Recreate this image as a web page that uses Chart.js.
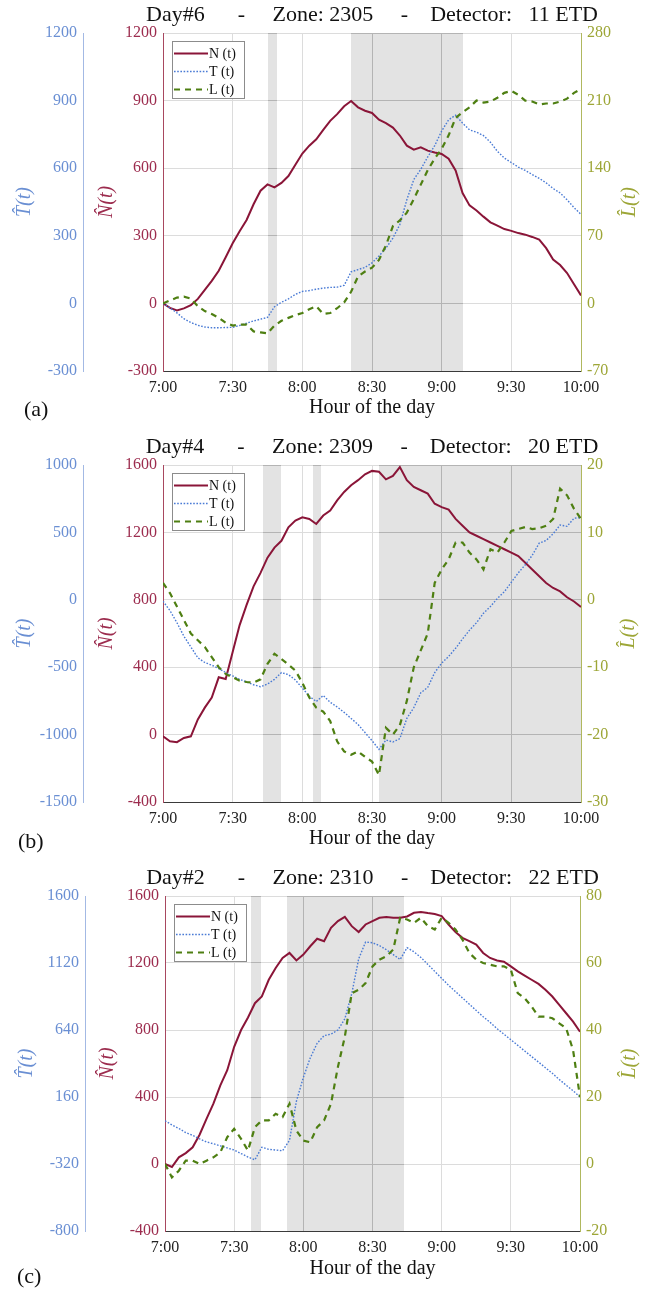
<!DOCTYPE html>
<html><head><meta charset="utf-8">
<script src="https://cdn.jsdelivr.net/npm/chart.js@4.4.1/dist/chart.umd.min.js"></script>
<style>
html,body{margin:0;padding:0;background:#fff;width:651px;height:1293px;overflow:hidden;}
.panel{position:absolute;left:0;width:651px;height:431px;}
canvas{display:block;}
</style></head><body>
<div class="panel" style="top:0px"><canvas id="cA" width="651" height="431"></canvas></div>
<div class="panel" style="top:431px"><canvas id="cB" width="651" height="431"></canvas></div>
<div class="panel" style="top:862px"><canvas id="cC" width="651" height="431"></canvas></div>
<script>
// ---------- shared x data (minutes after 7:00) ----------
const minutes = [0,3,6,9,12,15,18,21,24,27,30,33,36,39,42,45,48,51,54,57,60,63,66,69,72,75,78,81,84,87,90,93,96,99,102,105,108,111,114,117,120,123,126,129,132,135,138,141,144,147,150,153,156,159,162,165,168,171,174,177,180];
const xTickLabels = ['7:00','7:30','8:00','8:30','9:00','9:30','10:00'];
const seriesLabels = ['N (t)','T (t)','L (t)'];

// ---------- panel (a) ----------
const titleA = 'Day#6      -     Zone: 2305     -    Detector:   11 ETD';
const nA = [0,-20,-31,-22,-8,20,60,100,145,205,267,320,370,440,500,528,515,535,565,615,665,700,728,770,810,840,875,898,870,855,845,815,800,780,745,700,682,693,678,670,663,642,590,490,435,412,385,360,345,330,322,312,305,295,283,245,195,170,135,85,35];
const tA = [0,-20,-42,-68,-85,-97,-105,-108,-108,-107,-106,-98,-88,-78,-70,-62,-15,5,20,40,53,57,63,68,71,72,80,140,150,160,180,210,245,290,350,460,550,595,650,700,765,815,835,800,770,760,745,715,675,645,625,605,590,572,555,535,510,490,460,425,395];
const lA = [0,3,6,7,5,-3,-8,-11,-15,-20,-23,-22,-22,-29,-30,-31,-23,-18,-15,-12,-10,-6,-3,-11,-10,-5,1,12,28,33,37,45,60,80,86,94,108,123,138,150,160,174,192,198,203,210,208,209,213,218,220,216,210,209,206,207,207,209,212,218,222];
const shadeA = [[45,49],[81,129]];
const nAxisA = [-300,1200,300];
const tAxisA = [-300,1200,300];
const lAxisA = [-70,280,70];

// ---------- panel (b) ----------
const titleB = 'Day#4      -     Zone: 2309     -    Detector:   20 ETD';
const nB = [-10,-40,-45,-20,-10,90,160,220,340,330,490,650,770,880,960,1050,1110,1150,1230,1270,1290,1280,1250,1300,1330,1390,1440,1480,1510,1545,1565,1560,1515,1535,1588,1510,1470,1450,1430,1370,1350,1335,1280,1240,1200,1180,1160,1140,1120,1100,1080,1060,1020,980,940,900,870,850,815,790,757];
const tB = [-10,-80,-170,-270,-350,-430,-465,-485,-510,-540,-565,-590,-610,-630,-645,-625,-590,-540,-555,-595,-655,-715,-755,-710,-760,-795,-835,-880,-925,-985,-1045,-1110,-1040,-1055,-1030,-880,-800,-690,-650,-540,-470,-420,-360,-290,-225,-170,-100,-50,10,60,130,200,260,330,420,440,490,555,545,605,610];
const lB = [2.5,1,-1,-3,-5,-6,-7,-8.5,-10,-11,-11.5,-12,-12.2,-12.3,-11.8,-9.5,-8,-8.8,-9.6,-10.5,-12.3,-14.5,-16,-16.6,-18,-21,-22.5,-23,-22.5,-23.3,-24,-26,-19,-20,-18.6,-15,-10,-7.5,-5,2.5,4.5,6,8.5,8.5,7,6,4.5,7.5,7,8.5,10.2,10.5,10.8,10.5,10.6,11,12,16.5,15.5,13.5,12];
const shadeB = [[43,51],[64.5,68],[93,180]];
const nAxisB = [-400,1600,400];
const tAxisB = [-1500,1000,500];
const lAxisB = [-30,20,10];

// ---------- panel (c) ----------
const titleC = 'Day#2      -     Zone: 2310     -    Detector:   22 ETD';
const nC = [0,-18,40,65,100,175,270,360,470,560,700,800,875,960,1000,1100,1170,1230,1260,1215,1250,1300,1345,1330,1410,1450,1475,1420,1385,1430,1450,1470,1475,1470,1470,1478,1500,1505,1498,1492,1480,1430,1385,1350,1330,1310,1260,1230,1215,1208,1180,1150,1125,1100,1075,1040,1000,950,900,850,790];
const tC = [-10,-40,-65,-95,-115,-140,-162,-175,-190,-205,-220,-245,-270,-290,-200,-215,-220,-225,-150,130,300,440,545,600,610,640,720,900,1150,1270,1265,1245,1215,1180,1145,1230,1200,1160,1110,1060,1010,960,915,870,825,780,735,695,650,610,570,530,490,450,410,370,330,285,245,205,160];
const lC = [0,-4,-2,1,1,0,1,2,3.5,8,10.5,7.5,4,11,13,13,15,14,18,10,7,6.5,11,13,18,29,38,51,52,54,59,61,62,64,73.5,73,72,73.5,71,70,73.5,72,70,67,63,61,60,59.5,59,59,58,51,49.5,47,44,44,43.5,42,40.5,34,20];
const shadeC = [[37.5,41.5],[53,103.5]];
const nAxisC = [-400,1600,400];
const tAxisC = [-800,1600,480];
const lAxisC = [-20,80,20];

// ---------- styling ----------
const SERIF = "'Liberation Serif','Times New Roman',serif";
Chart.defaults.font.family = SERIF;
const COL = {
  n:'#8a1538', t:'#4a7bd5', l:'#4e7f12',
  nTick:'#9c2c4e', tTick:'#6a8fd3', lTick:'#9da637',
  nAxis:'#a8475f', tAxis:'#a3b9e4', lAxis:'#b0b85e',
  grid:'#dcdcdc', gridShade:'#b4b4b4', shade:'#e3e3e3'
};

const extras = {
  id:'extras',
  beforeDatasetsDraw(chart){
    const o = chart.options.plugins.extras;
    const {ctx, chartArea:{top,bottom,left,right}} = chart;
    const x = chart.scales.x, y = chart.scales.yN;
    ctx.save();
    o.spans.forEach(([a,b])=>{
      const x0 = Math.round(x.getPixelForValue(a)), x1 = Math.round(x.getPixelForValue(b));
      ctx.fillStyle = COL.shade;
      ctx.fillRect(x0, top, x1-x0, bottom-top);
      ctx.save();
      ctx.beginPath(); ctx.rect(x0, top, x1-x0, bottom-top); ctx.clip();
      ctx.strokeStyle = COL.gridShade; ctx.lineWidth = 1;
      x.ticks.forEach(t=>{
        const px = Math.round(x.getPixelForValue(t.value)-0.5)+0.5;
        ctx.beginPath(); ctx.moveTo(px, top); ctx.lineTo(px, bottom); ctx.stroke();
      });
      y.ticks.forEach(t=>{
        const py = Math.round(y.getPixelForValue(t.value)-0.5)+0.5;
        ctx.beginPath(); ctx.moveTo(left, py); ctx.lineTo(right, py); ctx.stroke();
      });
      ctx.restore();
    });
    ctx.restore();
  },
  afterDatasetsDraw(chart){
    const {ctx, chartArea:{top,left}} = chart;
    const bx = Math.round(left)+9, by = Math.round(top)+8, bw = 72, bh = 57;
    ctx.save();
    ctx.fillStyle = '#ffffff'; ctx.fillRect(bx, by, bw, bh);
    ctx.strokeStyle = '#8c8c8c'; ctx.lineWidth = 1; ctx.strokeRect(bx+0.5, by+0.5, bw, bh);
    chart.data.datasets.forEach((ds,i)=>{
      const cy = by + 12.5 + i*18;
      ctx.strokeStyle = ds.borderColor; ctx.lineWidth = ds.borderWidth;
      ctx.setLineDash(ds.borderDash || []);
      ctx.beginPath(); ctx.moveTo(bx+2, cy); ctx.lineTo(bx+36, cy); ctx.stroke();
      ctx.setLineDash([]);
      ctx.fillStyle = '#111'; ctx.font = '14px ' + SERIF; ctx.textBaseline = 'middle'; ctx.textAlign = 'left';
      ctx.fillText(ds.label, bx+37, cy+0.5);
    });
    ctx.restore();
  },
  afterDraw(chart){
    const o = chart.options.plugins.extras;
    const {ctx, chartArea:{top,bottom,left,right}} = chart;
    // chart title, centred over the plot area
    ctx.save();
    ctx.fillStyle = '#111'; ctx.font = '22px ' + SERIF;
    ctx.textAlign = 'center'; ctx.textBaseline = 'middle';
    ctx.fillText(o.title, (left+right)/2, o.titleY);
    ctx.restore();
    // right axis title (reads bottom to top)
    ctx.save();
    ctx.translate(o.lTitleX, (top+bottom)/2);
    ctx.rotate(-Math.PI/2);
    ctx.fillStyle = COL.lTick; ctx.font = 'italic 20px ' + SERIF;
    ctx.textAlign = 'center'; ctx.textBaseline = 'middle';
    ctx.fillText('L\u0302(t)', 0, 0);
    ctx.restore();
    // panel tag
    ctx.save();
    ctx.fillStyle = '#111'; ctx.font = '22px ' + SERIF;
    ctx.textAlign = 'left'; ctx.textBaseline = 'middle';
    ctx.fillText(o.tag, o.tagX, o.tagY);
    ctx.restore();
  }
};

function xy(vals){ return minutes.map((m,i)=>({x:m, y:vals[i]})); }
function yAxis(range, pos, weight, tickCol, borderCol, onArea, title, titlePad, width){
  return {
    type:'linear', position:pos, weight:weight, min:range[0], max:range[1],
    ticks:{stepSize:range[2], color:tickCol, font:{size:16}, padding:6, callback:v=>String(v)},
    grid:{display:true, drawOnChartArea:onArea, drawTicks:false, color:COL.grid},
    border:{display:true, color:borderCol, width:1},
    title: title ? {display:true, text:title, color:tickCol, font:{size:20, style:'italic'}, padding:{top:titlePad, bottom:0}} : {display:false},
    afterFit:s=>{ s.width = width; }
  };
}

function makePanel(id, p){
  const g = p.geo;
  new Chart(document.getElementById(id), {
    type:'line',
    data:{datasets:[
      {label:seriesLabels[0], data:xy(p.n), yAxisID:'yN', borderColor:COL.n, borderWidth:2, pointRadius:0, order:3},
      {label:seriesLabels[1], data:xy(p.t), yAxisID:'yT', borderColor:COL.t, borderWidth:1.4, borderDash:[1.6,1.6], pointRadius:0, order:2},
      {label:seriesLabels[2], data:xy(p.l), yAxisID:'yL', borderColor:COL.l, borderWidth:2.2, borderDash:[6,5], pointRadius:0, order:1}
    ]},
    options:{
      responsive:false, animation:false, devicePixelRatio:1,
      layout:{padding:{left:0, top:g.top, right:651-g.right-70, bottom:431-g.bottom-50}},
      scales:{
        x:{type:'linear', position:'bottom', min:0, max:180,
           ticks:{stepSize:30, color:'#222', font:{size:16}, padding:7, maxRotation:0, autoSkip:false,
                  callback:v=>xTickLabels[Math.round(v/30)]},
           grid:{color:COL.grid, drawTicks:false},
           border:{color:'#3a3a3a', width:1},
           title:{display:true, text:'Hour of the day', color:'#111', font:{size:20}, padding:{top:0, bottom:g.xTitlePad}},
           afterFit:s=>{ s.height = 50; }},
        yN: yAxis(p.nAxis, 'left', 0, COL.nTick, COL.nAxis, true, 'N\u0302(t)', g.nTitlePad, g.left - g.tRight),
        yT: yAxis(p.tAxis, 'left', 1, COL.tTick, COL.tAxis, false, 'T\u0302(t)', g.tTitlePad, g.tRight),
        yL: yAxis(p.lAxis, 'right', 0, COL.lTick, COL.lAxis, false, null, 0, 70)
      },
      plugins:{
        legend:{display:false}, tooltip:{enabled:false}, title:{display:false},
        extras:{spans:p.shade, title:p.title, titleY:g.titleCenter, tag:p.tag, tagX:p.tagX, tagY:p.tagY, lTitleX:g.lTitleX}
      }
    },
    plugins:[extras]
  });
}

makePanel('cA', {title:titleA, n:nA, t:tA, l:lA, shade:shadeA, nAxis:nAxisA, tAxis:tAxisA, lAxis:lAxisA,
  tag:'(a)', tagX:24, tagY:410,
  geo:{left:163, right:581, top:33, bottom:371, tRight:83, titleCenter:15, xTitlePad:1, nTitlePad:12, tTitlePad:13, lTitleX:630}});
makePanel('cB', {title:titleB, n:nB, t:tB, l:lB, shade:shadeB, nAxis:nAxisB, tAxis:tAxisB, lAxis:lAxisB,
  tag:'(b)', tagX:18, tagY:411,
  geo:{left:163, right:581, top:34, bottom:371, tRight:83, titleCenter:16, xTitlePad:1, nTitlePad:12, tTitlePad:13, lTitleX:629}});
makePanel('cC', {title:titleC, n:nC, t:tC, l:lC, shade:shadeC, nAxis:nAxisC, tAxis:tAxisC, lAxis:lAxisC,
  tag:'(c)', tagX:17, tagY:415,
  geo:{left:165, right:580, top:34, bottom:369, tRight:85, titleCenter:16, xTitlePad:0, nTitlePad:11, tTitlePad:15, lTitleX:630}});
</script>
</body></html>
